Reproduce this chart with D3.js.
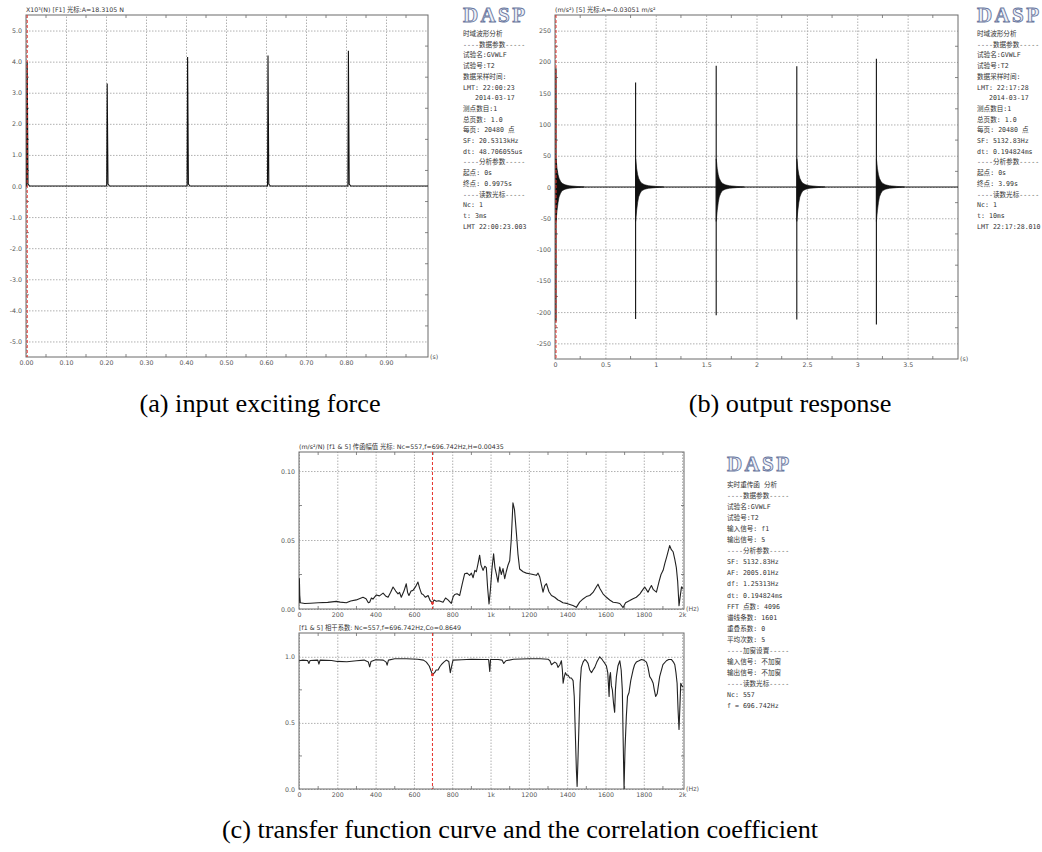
<!DOCTYPE html>
<html>
<head>
<meta charset="utf-8">
<script src="https://cdn.jsdelivr.net/npm/d3@7"></script>
<style>
  body { margin: 0; background: #fff; }
  svg { display: block; }
</style>
</head>
<body>
<div id="container"></div>
<script>
/* DATA */
// (a) input exciting force (x10^3 N)
const forceHitTimes = [0.003, 0.203, 0.404, 0.605, 0.806];
const forcePeaks = [4.0, 3.3, 4.15, 4.2, 4.35];
const forceTicksX = [0, 0.1, 0.2, 0.3, 0.4, 0.5, 0.6, 0.7, 0.8, 0.9];
const forceTicksY = [-5, -4, -3, -2, -1, 0, 1, 2, 3, 4, 5];

// (b) output response (m/s^2)
const respHitTimes = [0.01, 0.80, 1.60, 2.40, 3.19];
const respPosPeaks = [190, 167, 194, 193, 205];
const respNegPeaks = [-215, -211, -205, -212, -220];
// decaying envelope after each hit (seconds after hit, upper, lower)
const envT = [0, 0.004, 0.01, 0.02, 0.03, 0.045, 0.06, 0.09, 0.13, 0.2, 0.28];
const envUp = [45, 40, 30, 20, 14, 9, 6, 3.5, 2, 1, 0];
const envDown = [-55, -48, -38, -25, -16, -10, -6, -3.5, -2, -1, 0];
const respTicksX = [0, 0.5, 1, 1.5, 2, 2.5, 3, 3.5];
const respTickLabelsX = ["0", "0.5", "1", "1.5", "2", "2.5", "3", "3.5"];
const respTicksY = [-250, -200, -150, -100, -50, 0, 50, 100, 150, 200, 250];

// (c) transfer function magnitude (m/s^2/N)
const tfFreq = [0, 2, 4, 7, 30, 60, 100, 150, 195, 215, 247, 270, 299, 315, 334, 350, 362, 369, 378, 386,
  404, 420, 439, 452, 465, 478, 491, 505, 517, 525, 534, 548, 560, 567, 574, 585, 595, 608, 621, 630,
  640, 648, 660, 674, 685, 696.7, 705, 717, 730, 752, 765, 778, 795, 805, 813, 825, 839, 852, 865, 878,
  891, 900, 909, 918, 926, 935, 943, 950, 961, 970, 978, 985, 992, 999, 1008, 1016, 1023, 1030, 1039, 1048,
  1056, 1065, 1074, 1082, 1091, 1100, 1108, 1117, 1125, 1135, 1143, 1152, 1170, 1187, 1204, 1222, 1239, 1248, 1257, 1274,
  1283, 1292, 1305, 1318, 1335, 1352, 1361, 1378, 1396, 1410, 1430, 1448, 1465, 1483, 1500, 1518, 1535, 1552, 1561, 1570,
  1587, 1605, 1622, 1640, 1660, 1675, 1692, 1705, 1727, 1744, 1761, 1780, 1795, 1805, 1822, 1832, 1840, 1850, 1866, 1880,
  1890, 1901, 1910, 1920, 1935, 1944, 1953, 1962, 1970, 1977, 1984, 1990, 1997, 2005];
const tfMag = [0.004, 0.022, 0.010, 0.0045, 0.004, 0.0042, 0.0045, 0.0048, 0.0055, 0.005, 0.0045, 0.0058, 0.0066, 0.0075, 0.0085, 0.0075, 0.0045, 0.0049, 0.008, 0.0072,
  0.0102, 0.0095, 0.0115, 0.0095, 0.0085, 0.012, 0.0159, 0.013, 0.011, 0.012, 0.0085, 0.013, 0.0183, 0.012, 0.0098, 0.013, 0.0135, 0.016, 0.0195, 0.015,
  0.011, 0.0105, 0.0085, 0.0098, 0.006, 0.00435, 0.0065, 0.0056, 0.006, 0.0049, 0.008, 0.0066, 0.0041, 0.009, 0.0105, 0.011, 0.0098, 0.018, 0.0256, 0.026,
  0.0244, 0.026, 0.0227, 0.028, 0.027, 0.033, 0.039, 0.032, 0.028, 0.031, 0.030, 0.015, 0.0037, 0.0134, 0.030, 0.040, 0.030, 0.0256, 0.0195, 0.0305,
  0.025, 0.0293, 0.022, 0.027, 0.0317, 0.035, 0.050, 0.077, 0.072, 0.055, 0.040, 0.029, 0.027, 0.026, 0.0256, 0.025, 0.0244, 0.026, 0.0232, 0.0122,
  0.017, 0.0183, 0.0125, 0.0098, 0.0085, 0.0065, 0.006, 0.0045, 0.0041, 0.0035, 0.0025, 0.0012, 0.005, 0.0073, 0.009, 0.0098, 0.012, 0.016, 0.018, 0.015,
  0.011, 0.0085, 0.0065, 0.0049, 0.0045, 0.004, 0.001, 0.0045, 0.0061, 0.0075, 0.0085, 0.011, 0.014, 0.0159, 0.0122, 0.015, 0.017, 0.014, 0.0122, 0.020,
  0.025, 0.028, 0.033, 0.038, 0.046, 0.043, 0.0415, 0.036, 0.030, 0.020, 0.0024, 0.009, 0.016, 0.0147];

// (c) coherence
const cohFreq = [0, 20, 45, 52, 58, 98, 104, 110, 170, 200, 250, 300, 340, 362, 369, 376, 400, 440, 455, 460,
  467, 500, 560, 620, 650, 665, 680, 696.7, 708, 716, 726, 735, 743, 756, 769, 782, 790, 797, 804, 850,
  900, 960, 990, 996, 1000, 1040, 1060, 1069, 1080, 1120, 1200, 1260, 1300, 1310, 1318, 1335, 1345, 1352, 1362, 1370,
  1375, 1379, 1385, 1391, 1398, 1405, 1414, 1422, 1431, 1437, 1442, 1448, 1452, 1456, 1462, 1468, 1474, 1483, 1492, 1500,
  1509, 1518, 1527, 1535, 1544, 1555, 1570, 1580, 1587, 1597, 1605, 1612, 1619, 1622, 1626, 1631, 1636, 1642, 1648, 1652,
  1657, 1665, 1675, 1682, 1688, 1692, 1697, 1702, 1709, 1715, 1723, 1732, 1744, 1752, 1761, 1775, 1788, 1800, 1814, 1822,
  1831, 1840, 1849, 1855, 1862, 1870, 1883, 1900, 1918, 1930, 1944, 1955, 1962, 1968, 1974, 1979, 1984, 1988, 1993, 1999, 2005];
const cohVal = [0.97, 0.975, 0.972, 0.95, 0.972, 0.975, 0.945, 0.975, 0.972, 0.965, 0.962, 0.97, 0.975, 0.96, 0.924, 0.965, 0.978, 0.975, 0.96, 0.937,
  0.975, 0.985, 0.985, 0.982, 0.975, 0.96, 0.93, 0.8649, 0.88, 0.90, 0.90, 0.925, 0.94, 0.96, 0.975, 0.965, 0.88, 0.93, 0.975, 0.978,
  0.982, 0.98, 0.98, 0.89, 0.98, 0.98, 0.975, 0.95, 0.97, 0.982, 0.985, 0.985, 0.982, 0.97, 0.94, 0.96, 0.95, 0.92, 0.94, 0.97,
  0.90, 0.80, 0.85, 0.88, 0.86, 0.86, 0.84, 0.84, 0.82, 0.70, 0.45, 0.15, 0.02, 0.20, 0.50, 0.80, 0.92, 0.96, 0.98, 0.97,
  0.95, 0.90, 0.88, 0.90, 0.92, 0.96, 1.0, 0.985, 0.97, 0.95, 0.93, 0.88, 0.70, 0.85, 0.88, 0.78, 0.75, 0.65, 0.58, 0.75,
  0.85, 0.93, 0.97, 0.90, 0.75, 0.40, 0.0, 0.30, 0.55, 0.70, 0.73, 0.82, 0.90, 0.94, 0.96, 0.97, 0.98, 0.975, 0.96, 0.92,
  0.85, 0.83, 0.80, 0.75, 0.70, 0.72, 0.85, 0.94, 0.97, 0.98, 0.98, 0.96, 0.94, 0.88, 0.80, 0.60, 0.45, 0.60, 0.80, 0.78, 0.77];

const freqTicks = [0, 200, 400, 600, 800, 1000, 1200, 1400, 1600, 1800, 2000];
const freqTickLabels = ["0", "200", "400", "600", "800", "1k", "1200", "1400", "1600", "1800", "2k"];
const tfTicksY = [0, 0.05, 0.10];
const cohTicksY = [0, 0.5, 1.0];

const cursorFreq = 696.742;

// side info texts
const sideA = ["时域波形分析", "----数据参数-----", "试验名:GVWLF", "试验号:T2", "数据采样时间:", "LMT: 22:00:23",
  "   2014-03-17", "测点数目:1", "总页数: 1.0", "每页: 20480 点", "SF: 20.5313kHz", "dt: 48.706055us",
  "----分析参数-----", "起点: 0s", "终点: 0.9975s", "----读数光标-----", "Nc: 1", "t: 3ms", "LMT 22:00:23.003"];
const sideB = ["时域波形分析", "----数据参数-----", "试验名:GVWLF", "试验号:T2", "数据采样时间:", "LMT: 22:17:28",
  "   2014-03-17", "测点数目:1", "总页数: 1.0", "每页: 20480 点", "SF: 5132.83Hz", "dt: 0.194824ms",
  "----分析参数-----", "起点: 0s", "终点: 3.99s", "----读数光标-----", "Nc: 1", "t: 10ms", "LMT 22:17:28.010"];
const sideC = ["实时重传函 分析", "----数据参数-----", "试验名:GVWLF", "试验号:T2", "输入信号: f1", "输出信号: 5",
  "----分析参数-----", "SF: 5132.83Hz", "AF: 2005.01Hz", "df: 1.25313Hz", "dt: 0.194824ms", "FFT 点数: 4096",
  "谱线条数: 1601", "重叠系数: 0", "平均次数: 5", "----加窗设置-----", "输入信号: 不加窗", "输出信号: 不加窗",
  "----读数光标-----", "Nc: 557", "f = 696.742Hz"];

/* CONSTANTS */
const width = 1042, height = 852;
const smallFont = "DejaVu Sans, 'Noto Sans CJK SC', sans-serif";
const sideFont = "'DejaVu Sans Mono', 'Noto Sans CJK SC', monospace";
const frameColor = "#6a6a6a", gridColor = "#b0b0b0", red = "#e5322b", ink = "#111";

const svg = d3.select("#container").append("svg")
  .attr("width", width).attr("height", height)
  .style("font-family", smallFont);

let clipId = 0;

// one framed plot with dotted grid, ticks and labels
function drawPlot(cfg) {
  const x = d3.scaleLinear().domain(cfg.xDomain).range([cfg.left, cfg.right]);
  const y = d3.scaleLinear().domain(cfg.yDomain).range([cfg.bottom, cfg.top]);
  const g = svg.append("g");
  const h = cfg.bottom - cfg.top, w = cfg.right - cfg.left;

  const styleAxis = sel => {
    sel.select(".domain").remove();
    sel.selectAll(".tick line")
      .attr("stroke", gridColor).attr("stroke-dasharray", "1.5,1.5");
    sel.selectAll(".tick text")
      .attr("fill", "#555").attr("font-size", 6.3).attr("font-family", smallFont);
    sel.attr("font-size", null).attr("font-family", null);
  };

  g.append("g")
    .attr("transform", `translate(0,${cfg.bottom})`)
    .call(d3.axisBottom(x).tickValues(cfg.xTicks)
      .tickFormat((d, i) => cfg.xLabels[i]).tickSize(-h).tickPadding(4))
    .call(styleAxis);

  g.append("g")
    .attr("transform", `translate(${cfg.left},0)`)
    .call(d3.axisLeft(y).tickValues(cfg.yTicks)
      .tickFormat(cfg.yFormat).tickSize(-w).tickPadding(4))
    .call(styleAxis);

  // minor ticks on the frame
  const step = cfg.xTicks[1] - cfg.xTicks[0];
  const xMinor = d3.range(cfg.xDomain[0] + step / 2, cfg.xDomain[1], step);
  const yStep = cfg.yTicks[1] - cfg.yTicks[0];
  const yMinor = d3.range(cfg.yTicks[0] - yStep / 2, cfg.yDomain[1], yStep)
    .filter(v => v > cfg.yDomain[0]);
  const minor = g.append("g").attr("stroke", frameColor).attr("stroke-width", 0.8);
  xMinor.forEach(v => {
    minor.append("line").attr("x1", x(v)).attr("x2", x(v)).attr("y1", cfg.bottom).attr("y2", cfg.bottom - 3);
    minor.append("line").attr("x1", x(v)).attr("x2", x(v)).attr("y1", cfg.top).attr("y2", cfg.top + 3);
  });
  yMinor.forEach(v => {
    minor.append("line").attr("y1", y(v)).attr("y2", y(v)).attr("x1", cfg.left).attr("x2", cfg.left + 3);
    minor.append("line").attr("y1", y(v)).attr("y2", y(v)).attr("x1", cfg.right).attr("x2", cfg.right - 3);
  });

  // frame
  g.append("rect")
    .attr("x", cfg.left).attr("y", cfg.top).attr("width", w).attr("height", h)
    .attr("fill", "none").attr("stroke", frameColor).attr("stroke-width", 1);

  // unit label at the right end of the x axis
  g.append("text")
    .attr("x", cfg.right + 2).attr("y", cfg.bottom + 2)
    .attr("font-size", 6.3).attr("fill", "#555")
    .text(cfg.unit);

  // header
  g.append("text")
    .attr("x", cfg.left).attr("y", cfg.top - 3)
    .attr("font-size", 6.3).attr("fill", "#333")
    .text(cfg.title);

  const id = "clip" + (clipId++);
  svg.append("clipPath").attr("id", id)
    .append("rect").attr("x", cfg.left).attr("y", cfg.top).attr("width", w).attr("height", h);
  const plot = g.append("g").attr("clip-path", `url(#${id})`);

  return { x, y, g, plot };
}

function drawLogo(x, y) {
  svg.append("text")
    .attr("x", x).attr("y", y)
    .attr("font-family", "'Liberation Serif', serif")
    .attr("font-weight", "bold")
    .attr("font-size", 21)
    .attr("textLength", 62)
    .attr("fill", "#eef1f8")
    .attr("stroke", "#6a78a0")
    .attr("stroke-width", 0.9)
    .text("DASP");
}

function drawSide(lines, x, y0, dy) {
  svg.append("g")
    .selectAll("text")
    .data(lines)
    .join("text")
    .attr("x", x)
    .attr("y", (d, i) => y0 + i * dy)
    .attr("font-family", sideFont)
    .attr("font-size", 6.6)
    .attr("fill", "#333")
    .style("white-space", "pre")
    .text(d => d);
}

/* PANEL (a) */
const pa = drawPlot({
  left: 26, right: 428, top: 15, bottom: 357,
  xDomain: [0, 1.005], yDomain: [-5.5, 5.5],
  xTicks: forceTicksX, xLabels: forceTicksX.map(d => d.toFixed(2)),
  yTicks: forceTicksY, yFormat: d => d.toFixed(1),
  unit: "(s)",
  title: "X10³(N) [F1] 光标:A=18.3105 N"
});

const forcePts = [[0, 0]];
forceHitTimes.forEach((t, i) => {
  forcePts.push([t - 0.0012, 0], [t, forcePeaks[i]], [t + 0.002, 0.06], [t + 0.006, 0]);
});
forcePts.push([1.005, 0]);

pa.plot.append("path")
  .datum(forcePts)
  .attr("fill", "none")
  .attr("stroke", ink)
  .attr("stroke-width", 1.1)
  .attr("d", d3.line().x(d => pa.x(d[0])).y(d => pa.y(d[1])));

pa.plot.append("line")
  .attr("x1", pa.x(0.003)).attr("x2", pa.x(0.003))
  .attr("y1", 15).attr("y2", 357)
  .attr("stroke", red).attr("stroke-dasharray", "3,2").attr("stroke-width", 1);

drawLogo(463, 22);
drawSide(sideA, 463, 36, 10.7);

/* PANEL (b) */
const pb = drawPlot({
  left: 555, right: 958, top: 15, bottom: 359,
  xDomain: [0, 4], yDomain: [-275, 275],
  xTicks: respTicksX, xLabels: respTickLabelsX,
  yTicks: respTicksY, yFormat: d => String(d),
  unit: "(s)",
  title: "(m/s²) [5] 光标:A=-0.03051 m/s²"
});

pb.plot.append("line")
  .attr("x1", pb.x(0)).attr("x2", pb.x(4))
  .attr("y1", pb.y(0)).attr("y2", pb.y(0))
  .attr("stroke", ink).attr("stroke-width", 1);

const envArea = d3.area()
  .x(d => pb.x(d.t))
  .y0(d => pb.y(d.down))
  .y1(d => pb.y(d.up));

respHitTimes.forEach((t, i) => {
  const env = envT.map((dt, j) => ({ t: t + dt, up: envUp[j], down: envDown[j] }));
  pb.plot.append("path")
    .datum(env)
    .attr("fill", ink)
    .attr("stroke", ink)
    .attr("stroke-width", 0.6)
    .attr("d", envArea);
  pb.plot.append("line")
    .attr("x1", pb.x(t)).attr("x2", pb.x(t))
    .attr("y1", pb.y(respPosPeaks[i])).attr("y2", pb.y(respNegPeaks[i]))
    .attr("stroke", ink).attr("stroke-width", 1.1);
});

pb.plot.append("line")
  .attr("x1", pb.x(0.01)).attr("x2", pb.x(0.01))
  .attr("y1", 15).attr("y2", 359)
  .attr("stroke", red).attr("stroke-dasharray", "3,2").attr("stroke-width", 1);

drawLogo(977, 22);
drawSide(sideB, 977, 36, 10.7);

/* PANEL (c) top: transfer function */
const pc1 = drawPlot({
  left: 299, right: 684, top: 452, bottom: 609,
  xDomain: [0, 2010], yDomain: [0, 0.1138],
  xTicks: freqTicks, xLabels: freqTickLabels,
  yTicks: tfTicksY, yFormat: d => d.toFixed(2),
  unit: "(Hz)",
  title: "(m/s²/N) [f1 & 5] 传函幅值 光标: Nc=557,f=696.742Hz,H=0.00435"
});

pc1.plot.append("path")
  .datum(tfFreq.map((f, i) => [f, tfMag[i]]))
  .attr("fill", "none")
  .attr("stroke", "#222")
  .attr("stroke-width", 1.1)
  .attr("stroke-linejoin", "round")
  .attr("d", d3.line().x(d => pc1.x(d[0])).y(d => pc1.y(d[1])));

/* PANEL (c) bottom: coherence */
const pc2 = drawPlot({
  left: 299, right: 684, top: 633, bottom: 789,
  xDomain: [0, 2010], yDomain: [0, 1.18],
  xTicks: freqTicks, xLabels: freqTickLabels,
  yTicks: cohTicksY, yFormat: d => d.toFixed(1),
  unit: "(Hz)",
  title: "[f1 & 5] 相干系数: Nc=557,f=696.742Hz,Co=0.8649"
});

pc2.plot.append("path")
  .datum(cohFreq.map((f, i) => [f, cohVal[i]]))
  .attr("fill", "none")
  .attr("stroke", "#222")
  .attr("stroke-width", 1.1)
  .attr("stroke-linejoin", "round")
  .attr("d", d3.line().x(d => pc2.x(d[0])).y(d => pc2.y(d[1])));

[pc1, pc2].forEach(p => {
  const [y1, y0] = p.y.range();
  p.plot.append("line")
    .attr("x1", p.x(cursorFreq)).attr("x2", p.x(cursorFreq))
    .attr("y1", y0).attr("y2", y1)
    .attr("stroke", red).attr("stroke-dasharray", "3,2").attr("stroke-width", 1);
});
pc1.plot.append("circle").attr("cx", pc1.x(cursorFreq)).attr("cy", pc1.y(0.00435)).attr("r", 1.5).attr("fill", red);
pc2.plot.append("circle").attr("cx", pc2.x(cursorFreq)).attr("cy", pc2.y(0.8649)).attr("r", 1.5).attr("fill", red);

drawLogo(727, 471);
drawSide(sideC, 727, 487, 11.05);

/* CAPTIONS */
const captions = [
  { text: "(a) input exciting force", x: 260, y: 412 },
  { text: "(b) output response", x: 790, y: 412 },
  { text: "(c) transfer function curve and the correlation coefficient", x: 520, y: 838 }
];
svg.selectAll(".caption")
  .data(captions)
  .join("text")
  .attr("class", "caption")
  .attr("transform", d => `translate(${d.x},${d.y}) scale(1.05,1)`)
  .attr("text-anchor", "middle")
  .attr("font-family", "'Liberation Serif', 'Times New Roman', serif")
  .attr("font-size", 25)
  .attr("fill", "#000")
  .text(d => d.text);
</script>
</body>
</html>
